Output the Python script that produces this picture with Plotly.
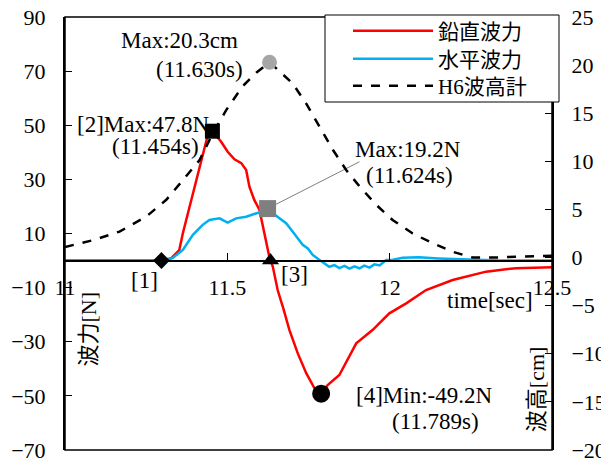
import plotly.graph_objects as go

# ---- data ----
t_red = [11.0, 11.2, 11.30, 11.327, 11.352, 11.363, 11.394, 11.424, 11.440, 11.454,
         11.481, 11.501, 11.522, 11.543, 11.558, 11.568, 11.583, 11.599, 11.614, 11.630,
         11.640, 11.655, 11.668, 11.672, 11.691, 11.717, 11.743, 11.768, 11.789, 11.809,
         11.845, 11.897, 11.948, 11.999, 12.051, 12.112, 12.194, 12.297, 12.389, 12.5]
f_red = [0, 0, 0, 0.85, 3.9, 10.1, 24.9, 39.7, 46.4, 47.8,
         43.9, 40.2, 37.4, 36.0, 33.5, 27.3, 22.4, 18.7, 10.2, 1.0,
         -2.2, -10.9, -16.0, -17.5, -25.6, -34.3, -41.6, -47.1, -49.2, -46.0,
         -42.3, -30.6, -25.6, -19.5, -15.8, -10.9, -7.2, -4.1, -2.8, -2.5]

t_blue = [11.0, 11.2, 11.31, 11.332, 11.363, 11.394, 11.424, 11.445, 11.476, 11.501,
          11.527, 11.558, 11.590, 11.610, 11.624, 11.640, 11.655, 11.668, 11.681, 11.701,
          11.715, 11.732, 11.748, 11.763, 11.784, 11.800, 11.814, 11.830, 11.845, 11.861,
          11.876, 11.892, 11.907, 11.922, 11.938, 11.953, 11.969, 11.989, 12.01, 12.04,
          12.09, 12.15, 12.25, 12.34, 12.5]
f_blue = [0, 0, 0, 1.0, 3.9, 9.5, 13.2, 15.0, 15.6, 14.0,
          15.6, 16.2, 17.5, 18.0, 19.2, 17.5, 16.2, 15.0, 13.8, 10.7,
          8.5, 5.8, 4.5, 2.1, 0.2, -1.2, -2.3, -1.7, -2.8, -2.0,
          -3.0, -2.1, -2.9, -1.9, -2.6, -1.4, -1.8, 0.2, 0.3, 1.0,
          1.2, 0.8, 0.3, 0, 0]

t_wave = [11.0, 11.086, 11.168, 11.25, 11.312, 11.373, 11.414, 11.455, 11.496, 11.547,
          11.589, 11.630, 11.662, 11.701, 11.743, 11.784, 11.825, 11.866, 11.907, 11.958,
          12.009, 12.071, 12.132, 12.194, 12.256, 12.317, 12.42, 12.5]
h_wave = [1.1, 1.8, 2.7, 4.25, 6.0, 8.4, 10.1, 12.9, 15.3, 17.8,
          19.2, 20.3, 19.3, 18.1, 16.0, 13.6, 11.2, 9.1, 7.4, 5.5,
          3.9, 2.5, 1.5, 0.6, 0.0, 0.0, 0.1, 0.2]

# event points
ev1 = (11.297, 0.0)      # [1]
ev2 = (11.454, 47.8)     # [2] max vertical
ev3 = (11.633, 0.0)      # [3]
ev4 = (11.789, -49.2)    # [4] min vertical
hmax = (11.630, 20.3)    # max wave height
fhmax = (11.624, 19.2)   # max horizontal
leader_end = (11.907, 36.5)

x_ticks = [11, 11.5, 12, 12.5]
x_ticktext = ["11", "11.5", "12", "12.5"]

names = ["鉛直波力", "水平波力", "H6波高計"]

FONT = "Liberation Serif, 'Noto Sans CJK JP', serif"
FS = 22
FA = 23  # annotation font size

fig = go.Figure()
fig.add_trace(go.Scatter(x=t_red, y=f_red, mode="lines", name=names[0], legend="legend",
                         line=dict(color="#ff0000", width=2.5)))
fig.add_trace(go.Scatter(x=t_blue, y=f_blue, mode="lines", name=names[1], legend="legend2",
                         line=dict(color="#00b0f0", width=2.5)))
fig.add_trace(go.Scatter(x=t_wave, y=h_wave, mode="lines", name=names[2], yaxis="y2", legend="legend3",
                         line=dict(color="black", width=2.5, dash="dash")))

# leader line
fig.add_trace(go.Scatter(x=[fhmax[0], leader_end[0]], y=[fhmax[1], leader_end[1]], mode="lines",
                         line=dict(color="#808080", width=1), showlegend=False, hoverinfo="skip"))

def marker(pt, symbol, size, color, yaxis="y"):
    fig.add_trace(go.Scatter(x=[pt[0]], y=[pt[1]], mode="markers", yaxis=yaxis, showlegend=False,
                             marker=dict(symbol=symbol, size=size, color=color,
                                         line=dict(width=0))))

marker(ev1, "diamond", 13, "black")
marker(ev2, "square", 15, "black")
marker(hmax, "circle", 15, "#a6a6a6", "y2")
marker(fhmax, "square", 17, "#7f7f7f")
marker(ev3, "triangle-up", 15, "black")
marker(ev4, "circle", 18, "black")

def txt(x, y, s, angle=0, size=FA):
    fig.add_annotation(x=x, y=y, xref="x", yref="y", text=s, showarrow=False,
                       xanchor="center", yanchor="middle", textangle=angle,
                       font=dict(family=FONT, size=size, color="black"))

txt(11.3525, 81.2, "Max:20.3cm")
txt(11.414, 70.6, "(11.630s)")
txt(11.2417, 50.4, "[2]Max:47.8N")
txt(11.2787, 42.3, "(11.454s)")
txt(12.0576, 41.2, "Max:19.2N")
txt(12.0607, 31.6, "(11.624s)")
txt(12.1065, -49.7, "[4]Min:-49.2N")
txt(12.141, -59.6, "(11.789s)")
txt(11.2448, -7.5, "[1]")
txt(11.7066, -5.3, "[3]")
txt(12.31, -14.9, "time[sec]")
txt(11.0724, -25.3, "波力[N]", -90, 22)
txt(12.4547, -47.4, "波高[cm]", -90, 22)

# page layout: page has an 8px body margin; plot area at page x 65..552, y 17..450
W, H = 601, 451
L, T = 57, 9
PW, PH = 487, 433
R, B = W - L - PW, H - T - PH

def px_x(p):  # page x pixel -> paper x
    return (p - 65) / PW

def px_y(p):  # page y pixel -> paper y
    return (450 - p) / PH

leg_common = dict(xanchor="left", yanchor="middle", bgcolor="rgba(0,0,0,0)", borderwidth=0,
                  font=dict(family=FONT, size=21, color="black"), itemwidth=80)
LEGX = px_x(348)

axis_common = dict(showline=True, linecolor="black", linewidth=2,
                   ticks="inside", ticklen=7, tickwidth=1, tickcolor="black",
                   showgrid=False, zeroline=False, ticklabeloverflow="allow")

fig.update_layout(
    width=W, height=H,
    margin=dict(l=L, r=R, t=T, b=B, autoexpand=False),
    paper_bgcolor="white", plot_bgcolor="white",
    font=dict(family=FONT, size=FS, color="black"),
    showlegend=True,
    legend=dict(x=LEGX, y=px_y(31), **leg_common),
    legend2=dict(x=LEGX, y=px_y(59), **leg_common),
    legend3=dict(x=LEGX, y=px_y(86), **leg_common),
    xaxis=dict(range=[11, 12.5], tickvals=x_ticks, ticktext=x_ticktext,
               anchor="free", position=0.4375, ticklabelstandoff=7, **axis_common),
    yaxis=dict(range=[-70, 90], tick0=-70, dtick=20, ticklabelstandoff=13, **axis_common),
    yaxis2=dict(range=[-20, 25], tick0=-20, dtick=5, overlaying="y", side="right",
                ticklabelstandoff=13, **axis_common),
    shapes=[
        dict(type="rect", xref="paper", yref="paper", x0=0, x1=1, y0=0, y1=1,
             line=dict(color="black", width=1.5), layer="above"),
        dict(type="rect", xref="paper", yref="paper", x0=px_x(325), x1=px_x(559),
             y0=px_y(102), y1=px_y(15), fillcolor="white",
             line=dict(color="black", width=1), layer="above"),
    ],
)

fig.write_html("out.html")
